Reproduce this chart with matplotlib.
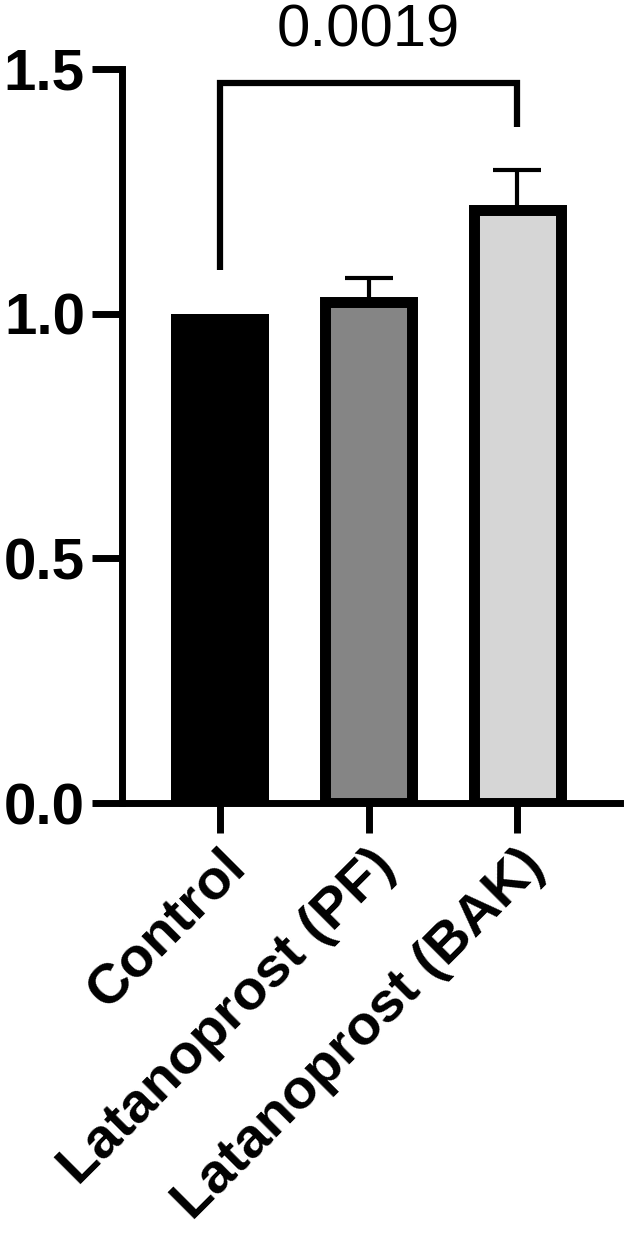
import numpy as np
import matplotlib.pyplot as plt
from matplotlib.transforms import ScaledTranslation

plt.rcParams['font.family'] = ['Liberation Sans', 'DejaVu Sans']

groups = ['Control', 'Latanoprost (PF)', 'Latanoprost (BAK)']
means = [1.0, 1.023, 1.211]
sem = [0.0, 0.049, 0.082]
colors = ['#000000', '#858585', '#d6d6d6']
p_text = '0.0019'

fig = plt.figure(figsize=(6.25, 12.4), dpi=100)
ax = fig.add_axes([0.195, 0.3524, 0.797, 0.592])

x = np.arange(len(groups))
ax.errorbar(x[1:], means[1:], yerr=[np.zeros(2), sem[1:]], fmt='none',
            ecolor='black', elinewidth=3, capsize=17.5, capthick=3, zorder=1)
# control bar is solid black, no outline
ax.bar(x[:1], means[:1], width=0.66, color=colors[0], linewidth=0, zorder=2)
ax.bar(x[1:], means[1:], width=0.586, color=colors[1:], edgecolor='black',
       linewidth=7.9, zorder=2)

# significance bracket
ax.plot([0, 0, 2, 2], [1.089, 1.471, 1.471, 1.381], color='black',
        lw=4.5, solid_capstyle='butt', solid_joinstyle='miter', clip_on=False)
ax.text(1, 1.578, p_text, ha='center', va='center', fontsize=43, clip_on=False)

ax.set_xlim(-0.66, 2.69)
ax.set_ylim(0, 1.5)
ax.set_yticks([0, 0.5, 1.0, 1.5])
ax.set_yticklabels(['0.0', '0.5', '1.0', '1.5'], fontsize=42, fontweight='bold')
ax.set_xticks(x)
ax.set_xticklabels(groups, fontsize=40.5, fontweight='bold', rotation=45,
                   ha='right', rotation_mode='anchor')
shift = ScaledTranslation(-7 / 100, -1 / 100, fig.dpi_scale_trans)
for lab in ax.get_xticklabels():
    lab.set_transform(lab.get_transform() + shift)

for s in ['top', 'right']:
    ax.spines[s].set_visible(False)
for s in ['left', 'bottom']:
    ax.spines[s].set_linewidth(5)
ax.tick_params(width=5, length=21.6, pad=5)

fig.savefig('out.png', dpi=100)
